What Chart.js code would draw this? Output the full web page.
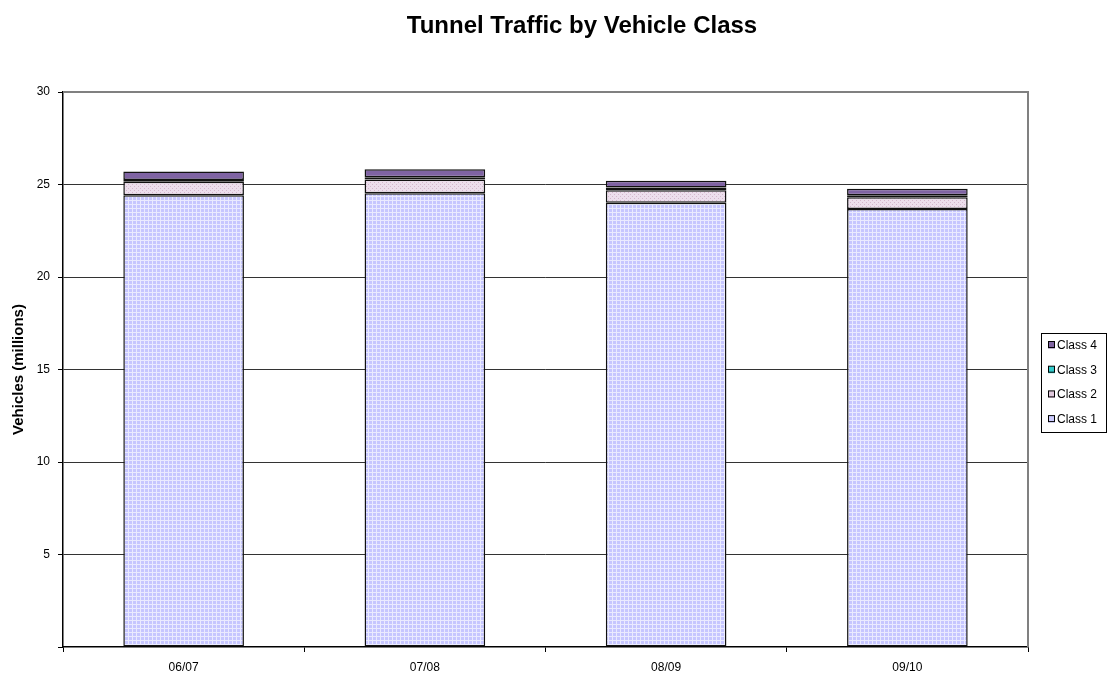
<!DOCTYPE html>
<html>
<head>
<meta charset="utf-8">
<script src="https://cdn.jsdelivr.net/npm/chart.js@4.4.1/dist/chart.umd.min.js"></script>
<style>
  html, body { margin: 0; padding: 0; background: #fff; }
  #wrap { width: 1112px; height: 684px; position: relative; }
</style>
</head>
<body>
<div id="wrap"><canvas id="c" width="1112" height="684"></canvas></div>
<script>
const categories = ['06/07', '07/08', '08/09', '09/10'];
const class1 = [24.42, 24.53, 24.01, 23.68];
const class2 = [0.73, 0.74, 0.68, 0.63];
const class3 = [0.10, 0.12, 0.15, 0.11];
const class4 = [0.45, 0.43, 0.36, 0.35];
const seriesNames = ['Class 1', 'Class 2', 'Class 3', 'Class 4'];
const titleText = 'Tunnel Traffic by Vehicle Class';
const yTitle = 'Vehicles (millions)';

function makePattern(base, line, kind) {
  const p = document.createElement('canvas');
  p.width = 4; p.height = 4;
  const g = p.getContext('2d');
  g.fillStyle = base; g.fillRect(0, 0, 4, 4);
  g.fillStyle = line;
  if (kind === 'grid') {
    g.fillRect(0, 0, 4, 1);
    g.fillRect(0, 0, 1, 4);
  } else {
    g.fillRect(0, 0, 1, 1); g.fillRect(2, 2, 1, 1);
  }
  return document.createElement('canvas').getContext('2d').createPattern(p, 'repeat');
}
const pat1 = makePattern('#c6c6ff', '#eaeaff', 'grid');
const pat2 = makePattern('#ecdeec', '#d4b6cc', 'dots');
const fills = [pat1, pat2, '#33cccc', '#7f63a3'];
const legendSwatch = ['#ccccff', '#e0c8dc', '#33cccc', '#8064a2'];

const FONT = 'Arial, "Liberation Sans", sans-serif';

const customDraw = {
  id: 'customDraw',
  afterDraw(chart) {
    const ctx = chart.ctx;
    const a = chart.chartArea;
    ctx.save();
    ctx.strokeStyle = '#808080';
    ctx.lineWidth = 2;
    ctx.beginPath();
    ctx.moveTo(a.left, a.top);
    ctx.lineTo(a.right, a.top);
    ctx.lineTo(a.right, a.bottom);
    ctx.stroke();
    ctx.fillStyle = '#000';
    ctx.font = 'bold 24px ' + FONT;
    ctx.textAlign = 'center';
    ctx.textBaseline = 'middle';
    ctx.fillText(titleText, 582, 26);
    const lx = 1041, ly = 333, lw = 65, lh = 99;
    ctx.strokeStyle = '#000';
    ctx.lineWidth = 1;
    ctx.strokeRect(lx + 0.5, ly + 0.5, lw, lh);
    ctx.font = '12px ' + FONT;
    ctx.textAlign = 'left';
    const order = [3, 2, 1, 0];
    order.forEach((di, i) => {
      const y = 345 + i * 24.7;
      ctx.fillStyle = legendSwatch[di];
      ctx.fillRect(1048, y - 3.5, 7, 7);
      ctx.strokeStyle = '#000';
      ctx.strokeRect(1048.5, y - 3.5, 6, 6);
      ctx.fillStyle = '#000';
      ctx.fillText(chart.data.datasets[di].label, 1057, y + 0.5);
    });
    ctx.restore();
  }
};

const datasets = [class1, class2, class3, class4].map((d, i) => ({
  label: seriesNames[i],
  data: d,
  backgroundColor: fills[i],
  borderColor: '#111',
  borderWidth: 1.5,
  borderSkipped: false,
  categoryPercentage: 1.0,
  barPercentage: 0.5
}));

new Chart(document.getElementById('c'), {
  type: 'bar',
  data: { labels: categories, datasets },
  plugins: [customDraw],
  options: {
    responsive: false,
    animation: false,
    layout: { padding: { top: 92, right: 84, left: 0, bottom: 0 } },
    plugins: { legend: { display: false }, title: { display: false }, tooltip: { enabled: false } },
    scales: {
      x: {
        stacked: true,
        afterFit(s) { s.height = 37; },
        grid: { offset: true, drawOnChartArea: false, drawTicks: true, tickLength: 5, color: '#000', lineWidth: 1 },
        border: { color: '#000', width: 1.5 },
        ticks: { color: '#000', font: { size: 12, family: FONT }, padding: 8 }
      },
      y: {
        stacked: true,
        min: 0, max: 30,
        afterFit(s) { s.width = 63; },
        ticks: {
          stepSize: 5, color: '#000', padding: 8,
          font: { size: 12, family: FONT },
          callback: v => v === 0 ? '' : v
        },
        grid: {
          color: ctx => (ctx.tick && (ctx.tick.value === 30 || ctx.tick.value === 0)) ? 'rgba(0,0,0,0)' : '#333',
          lineWidth: 1,
          borderDash: [1, 1],
          tickBorderDash: [],
          tickColor: '#000',
          tickLength: 5
        },
        border: { color: '#000', width: 1.5 },
        title: {
          display: true, text: yTitle, color: '#000',
          font: { size: 15, weight: 'bold', family: FONT },
          padding: { top: 10, bottom: 0 }
        }
      }
    }
  }
});
</script>
</body>
</html>
